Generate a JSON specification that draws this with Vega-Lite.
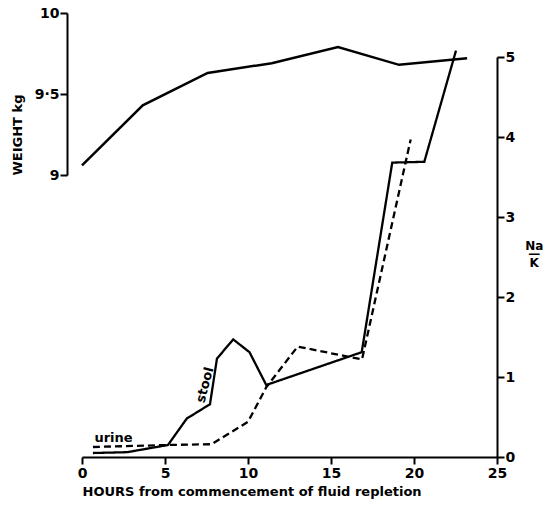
{
  "$schema": "https://vega.github.io/schema/vega-lite/v6.json",
  "autosize": {"type": "none"},
  "padding": {"left": 82, "top": 13, "right": 48, "bottom": 48},
  "width": 415,
  "height": 444,
  "background": "white",
  "config": {
    "view": {"stroke": null},
    "font": "DejaVu Sans",
    "axis": {
      "grid": false,
      "domainColor": "black",
      "domainWidth": 2,
      "tickColor": "black",
      "tickWidth": 2,
      "tickSize": 7,
      "labelFont": "DejaVu Sans",
      "labelFontSize": 14,
      "labelFontWeight": "bold",
      "labelColor": "black",
      "labelFlush": false,
      "titleFont": "DejaVu Sans",
      "titleFontWeight": "bold",
      "titleColor": "black",
      "titleFontSize": 13
    }
  },
  "datasets": {
    "weight": [
      {"hours": 0.0, "weight": 9.06},
      {"hours": 3.66, "weight": 9.43},
      {"hours": 7.57, "weight": 9.63},
      {"hours": 11.43, "weight": 9.69},
      {"hours": 15.42, "weight": 9.79},
      {"hours": 19.1, "weight": 9.68},
      {"hours": 23.2, "weight": 9.72}
    ],
    "nak": [
      {"series": "stool", "hours": 0.66, "ratio": 0.05},
      {"series": "stool", "hours": 2.71, "ratio": 0.06},
      {"series": "stool", "hours": 5.18, "ratio": 0.15},
      {"series": "stool", "hours": 6.31, "ratio": 0.48},
      {"series": "stool", "hours": 7.71, "ratio": 0.66},
      {"series": "stool", "hours": 8.13, "ratio": 1.23},
      {"series": "stool", "hours": 9.11, "ratio": 1.47},
      {"series": "stool", "hours": 10.09, "ratio": 1.31},
      {"series": "stool", "hours": 11.1, "ratio": 0.9},
      {"series": "stool", "hours": 16.85, "ratio": 1.31},
      {"series": "stool", "hours": 18.69, "ratio": 3.68},
      {"series": "stool", "hours": 20.62, "ratio": 3.69},
      {"series": "stool", "hours": 22.53, "ratio": 5.08},
      {"series": "urine", "hours": 0.66, "ratio": 0.125},
      {"series": "urine", "hours": 5.18, "ratio": 0.15},
      {"series": "urine", "hours": 7.81, "ratio": 0.16},
      {"series": "urine", "hours": 10.0, "ratio": 0.44},
      {"series": "urine", "hours": 11.11, "ratio": 0.875},
      {"series": "urine", "hours": 12.99, "ratio": 1.38},
      {"series": "urine", "hours": 16.87, "ratio": 1.22},
      {"series": "urine", "hours": 19.8, "ratio": 3.97}
    ],
    "labels": [
      {"label": "stool", "hours": 7.41, "ratio": 0.9},
      {"label": "urine", "hours": 1.9, "ratio": 0.24}
    ]
  },
  "encoding": {
    "x": {
      "field": "hours",
      "type": "quantitative",
      "scale": {"domain": [0, 25], "nice": false},
      "axis": {
        "values": [0, 5, 10, 15, 20, 25],
        "format": "d",
        "title": "HOURS from commencement of fluid repletion",
        "titleAnchor": "start",
        "titleAlign": "left",
        "labelPadding": 2,
        "titlePadding": 5
      }
    }
  },
  "layer": [
    {
      "data": {"name": "weight"},
      "mark": {"type": "line", "color": "black", "strokeWidth": 2.5},
      "encoding": {
        "y": {
          "field": "weight",
          "type": "quantitative",
          "scale": {"domain": [9, 10], "range": [162, 0], "nice": false, "zero": false},
          "axis": {
            "orient": "left",
            "offset": 15,
            "values": [9, 9.5, 10],
            "labelExpr": "datum.value == 9.5 ? '9·5' : format(datum.value, 'd')",
            "labelPadding": 1,
            "title": "WEIGHT kg",
            "titleAnchor": "start",
            "titlePadding": 10
          }
        }
      }
    },
    {
      "layer": [
        {
          "data": {"name": "nak"},
          "mark": {"type": "line", "color": "black", "strokeWidth": 2.3},
          "encoding": {
            "y": {
              "field": "ratio",
              "type": "quantitative",
              "scale": {"domain": [0, 5], "range": [444, 44], "nice": false},
              "axis": {
                "orient": "right",
                "values": [0, 1, 2, 3, 4, 5],
                "format": "d",
                "labelPadding": 1,
                "title": ["Na", "—", "K"],
                "titleAngle": 0,
                "titleAlign": "center",
                "titleBaseline": "middle",
                "titleFontSize": 12,
                "titleLineHeight": 8.5,
                "titlePadding": 2,
                "titleY": 232
              }
            },
            "strokeDash": {
              "field": "series",
              "type": "nominal",
              "scale": {"domain": ["stool", "urine"], "range": [[1, 0], [7, 4]]},
              "legend": null
            }
          }
        },
        {
          "data": {"name": "labels"},
          "transform": [{"filter": "datum.label == 'stool'"}],
          "mark": {"type": "text", "angle": -75, "fontSize": 13, "fontWeight": "bold", "font": "DejaVu Sans", "color": "black"},
          "encoding": {
            "y": {"field": "ratio", "type": "quantitative"},
            "text": {"field": "label"}
          }
        },
        {
          "data": {"name": "labels"},
          "transform": [{"filter": "datum.label == 'urine'"}],
          "mark": {"type": "text", "fontSize": 13, "fontWeight": "bold", "font": "DejaVu Sans", "color": "black"},
          "encoding": {
            "y": {"field": "ratio", "type": "quantitative"},
            "text": {"field": "label"}
          }
        }
      ]
    }
  ],
  "resolve": {"scale": {"y": "independent"}, "axis": {"y": "independent"}}
}
